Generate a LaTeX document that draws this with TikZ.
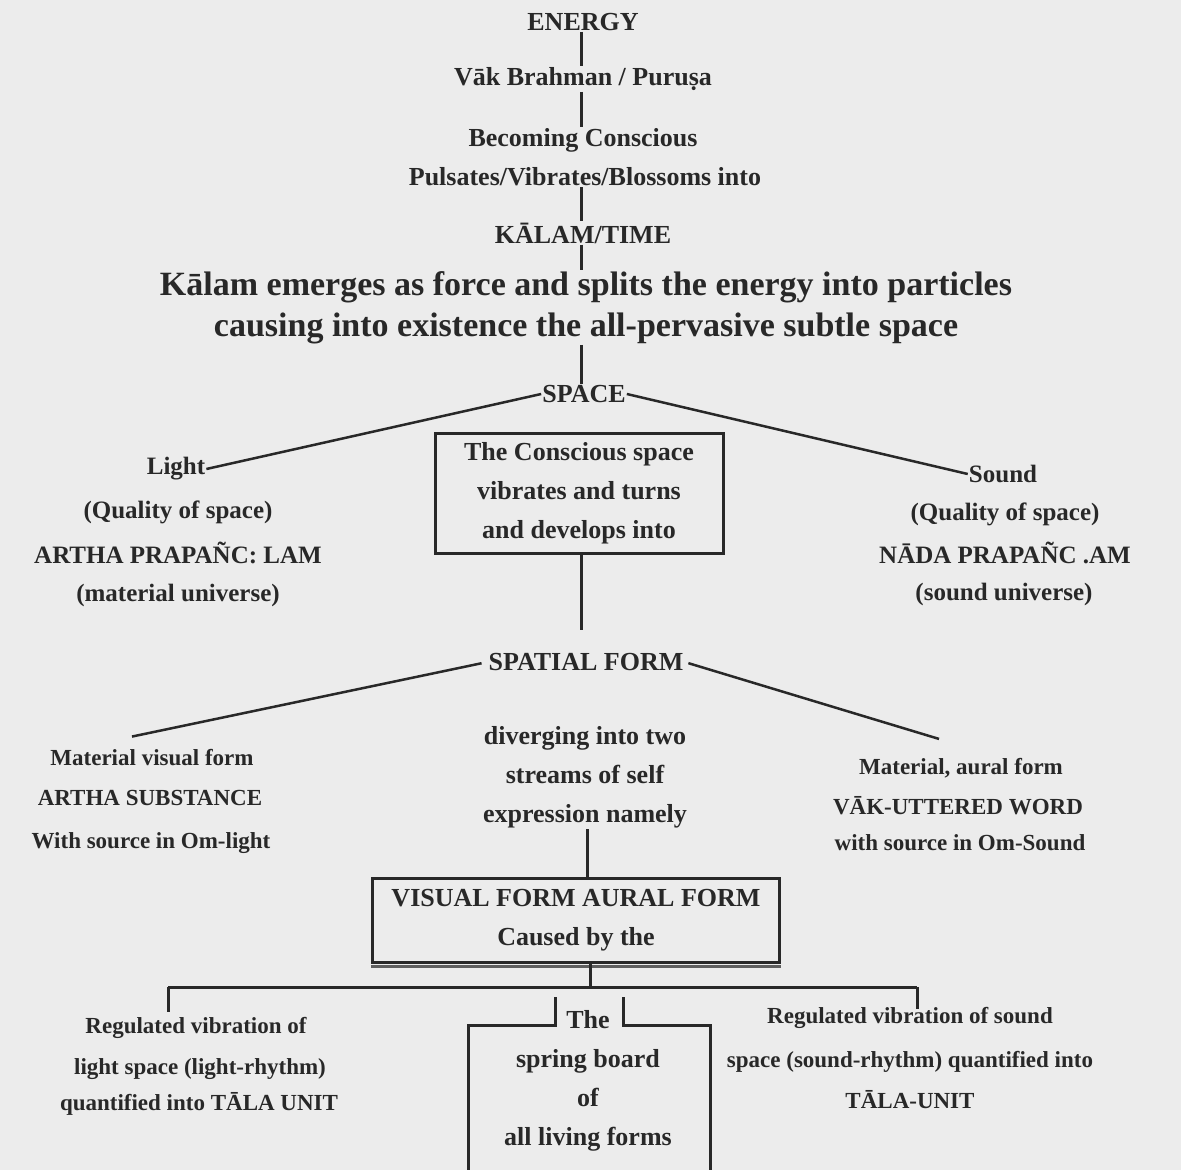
\documentclass[tikz,border=0pt]{standalone}
\usepackage{fontspec}
\setmainfont{Liberation Serif}
\usetikzlibrary{calc}
\definecolor{ink}{RGB}{40,40,40}
\definecolor{paper}{RGB}{236,236,236}
\tikzset{
  txt/.style={text=ink, inner sep=1pt, align=center, font=\bfseries\fontsize{26}{39}\selectfont},
  big/.style={txt, font=\bfseries\fontsize{34}{40}\selectfont},
  side/.style={txt, font=\bfseries\fontsize{25}{40}\selectfont},
  small/.style={txt, font=\bfseries\fontsize{23}{40}\selectfont},
  conn/.style={draw=ink, line width=3pt},
  slant/.style={draw=ink, line width=2.5pt},
  boxframe/.style={draw=ink, line width=3pt},
}
\begin{document}
\begin{tikzpicture}[x=1pt,y=-1pt]
\fill[paper] (0,0) rectangle (1181,1170);
\useasboundingbox (0,0) rectangle (1181,1170);

\coordinate (col) at (581,0);
\coordinate (col2) at (587,0);

% central column
\node[txt] (energy) at (583,22) {ENERGY};
\node[txt] (vak) at (583,79) {Vāk Brahman / Puruṣa};
\node[txt] (becoming) at (583,140) {Becoming Conscious};
\node[txt] (pulsates) at (585,177) {Pulsates/Vibrates/Blossoms into};
\node[txt] (kalam) at (583,233) {KĀLAM/TIME};
\node[big] (emerges) at (586,287) {Kālam emerges as force and splits the energy into particles};
\node[big] (causing) at (586,328) {causing into existence the all-pervasive subtle space};
\node[txt] (space) at (584,394) {SPACE};

\draw[conn] (energy.south -| col) -- (vak.north -| col);
\draw[conn] (vak.south -| col) -- (becoming.north -| col);
\draw[conn] (pulsates.south -| col) -- (kalam.north -| col);
\draw[conn] (kalam.south -| col) -- (emerges.north -| col);
\draw[conn] (causing.south -| col) -- (space.north -| col);

% light / sound
\node[side] (light) at (176,469) {Light};
\node[side] (light1) at (178,512) {(Quality of space)};
\node[side] (light2) at (178,553) {ARTHA PRAPAÑC: LAM};
\node[side] (light3) at (178,595) {(material universe)};
\node[side] (sound) at (1003,474) {Sound};
\node[side] (sound1) at (1005,514) {(Quality of space)};
\node[side] (sound2) at (1005,553) {NĀDA PRAPAÑC .AM};
\node[side] (sound3) at (1004,594) {(sound universe)};
\draw[slant] (space.west) -- (light.east);
\draw[slant] (space.east) -- (sound.west);

% conscious space box
\node[txt, boxframe, minimum width=288pt, minimum height=120pt] (conscious) at (579,493)
  {The Conscious space\\vibrates and turns\\and develops into};

\node[txt] (spatial) at (586,662) {SPATIAL FORM};
\draw[conn] (conscious.south -| col) -- ([yshift=22pt]spatial.north -| col);

\node[txt] (diverging) at (585,777) {diverging into two\\streams of self\\expression namely};

\node[small] (matvis) at (152,758) {Material visual form};
\node[small] (matvis1) at (150,798) {ARTHA SUBSTANCE};
\node[small] (matvis2) at (151,843) {With source in Om-light};
\node[small] (aural) at (961,768) {Material, aural form};
\node[small] (aural1) at (958,806) {VĀK-UTTERED WORD};
\node[small] (aural2) at (960,843) {with source in Om-Sound};
\draw[slant, shorten <=6pt] (spatial.west) -- ($(matvis.north)+(-20,-12)$);
\draw[slant, shorten <=4pt] (spatial.east) -- ($(aural.north)+(-22,-18)$);

% visual / aural box
\node[txt, boxframe, minimum width=407pt, minimum height=84pt] (visual) at (576,920)
  {VISUAL FORM AURAL FORM\\Caused by the};
\draw[ink!75, line width=3pt] ([yshift=-3pt]visual.south west) -- ([yshift=-3pt]visual.south east);
\draw[conn] (diverging.south -| col2) -- (visual.north -| col2);

\coordinate (j) at (590,987);
\coordinate (jl) at (168,987);
\coordinate (jr) at (917,987);
\draw[conn] (visual.south -| j) -- (j);
\draw[conn] (jl) -- (jr);
\draw[conn] (jl) -- ++(0,25);
\draw[conn] (jr) -- ++(0,22);

% spring board
\node[txt] (spring) at (588,1081) {The\\spring board\\of\\all living forms};
\draw[boxframe] (555,997) -- (555,1025) -- (468,1025) -- (468,1180);
\draw[boxframe] (623,997) -- (623,1025) -- (710,1025) -- (710,1180);

% bottom sides
\node[small] (regl1) at (196,1028) {Regulated vibration of};
\node[small] (regl2) at (200,1069) {light space (light-rhythm)};
\node[small] (regl3) at (199,1104) {quantified into TĀLA UNIT};
\node[small] (regr1) at (910,1018) {Regulated vibration of sound};
\node[small] (regr2) at (910,1062) {space (sound-rhythm) quantified into};
\node[small] (regr3) at (910,1100) {TĀLA-UNIT};
\end{tikzpicture}
\end{document}
